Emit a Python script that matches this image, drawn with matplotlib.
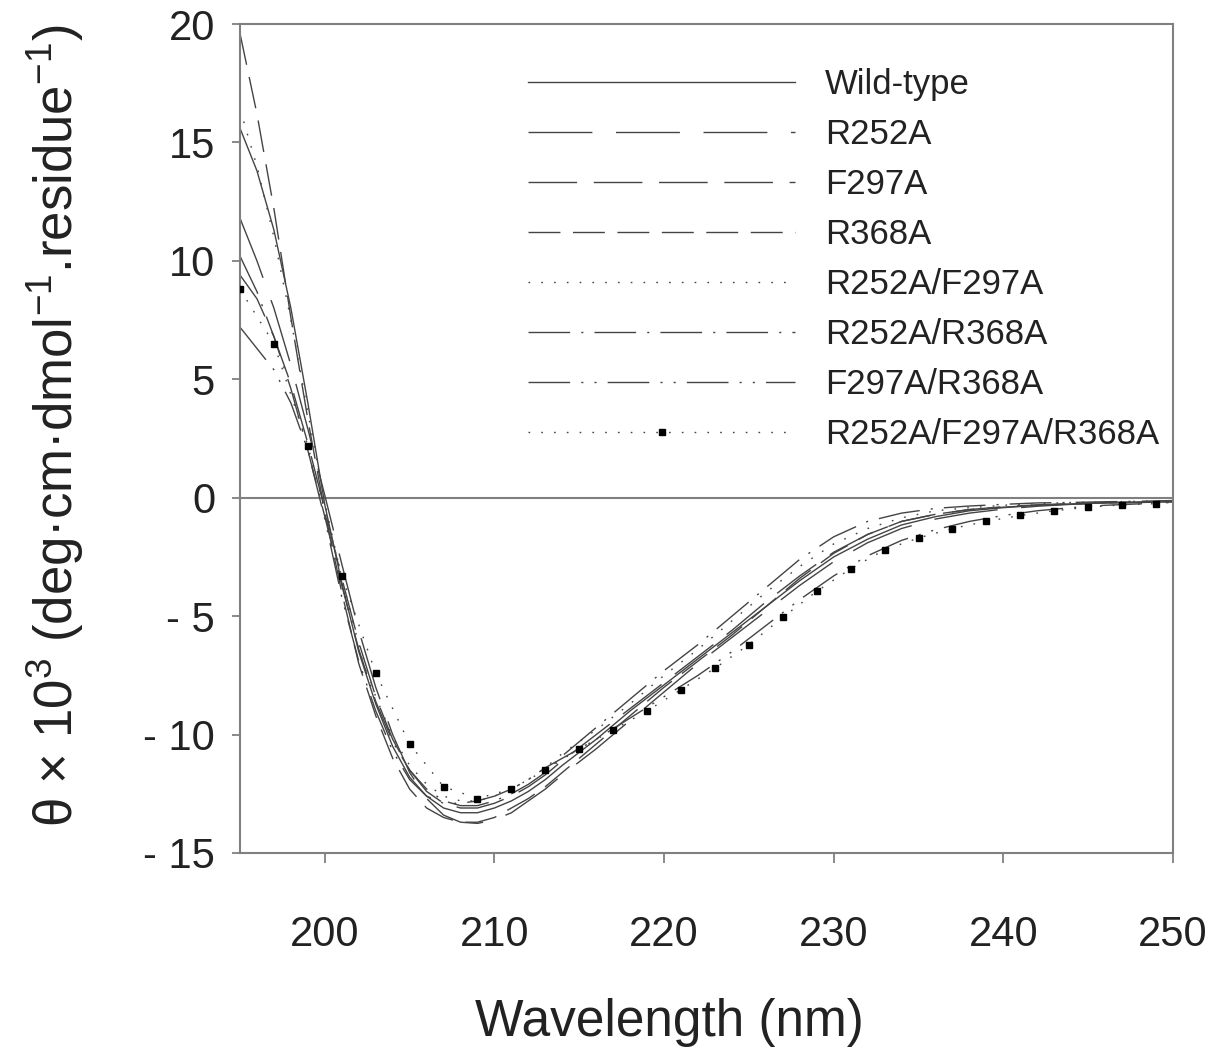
# CD spectra of wild-type and mutants

import matplotlib
matplotlib.use("Agg")
import matplotlib.pyplot as plt

plt.rcParams["font.family"] = ["Liberation Sans", "DejaVu Sans"]
plt.rcParams["mathtext.fontset"] = "custom"
plt.rcParams["mathtext.rm"] = "Liberation Sans"
plt.rcParams["mathtext.it"] = "Liberation Sans:italic"


# DATA

WL = [195, 196, 197, 198, 199, 200, 201, 202, 203, 204, 205, 206, 207, 208,
      209, 210, 211, 212, 213, 214, 216, 218, 220, 222, 224, 226, 228, 230,
      232, 234, 236, 238, 240, 242, 244, 246, 248, 250]

WILD_TYPE = [15.6, 13.8, 11.3, 8.0, 4.0, -0.3, -3.6, -6.5, -8.7, -10.5, -11.8,
             -12.6, -13.1, -13.3, -13.3, -13.1, -12.8, -12.4, -11.9, -11.3,
             -10.2, -9.0, -7.9, -6.8, -5.7, -4.6, -3.5, -2.5, -1.75, -1.15,
             -0.8, -0.55, -0.42, -0.32, -0.26, -0.22, -0.18, -0.15]

R252A = [11.8, 10.0, 8.0, 5.6, 2.9, 0.1, -2.8, -5.6, -8.0, -10.0, -11.6,
         -12.7, -13.4, -13.7, -13.75, -13.6, -13.3, -12.8, -12.3, -11.7,
         -10.6, -9.4, -8.2, -7.0, -5.9, -4.8, -3.7, -2.7, -1.9, -1.3,
         -0.9, -0.65, -0.48, -0.36, -0.28, -0.23, -0.2, -0.17]

F297A = [9.4, 8.4, 6.8, 4.8, 2.3, -0.5, -3.4, -6.1, -8.4, -10.2, -11.5,
         -12.4, -12.9, -13.1, -13.1, -12.9, -12.6, -12.2, -11.7, -11.1,
         -10.0, -8.9, -7.8, -6.7, -5.6, -4.4, -3.3, -2.3, -1.55, -1.0,
         -0.7, -0.5, -0.38, -0.3, -0.25, -0.2, -0.18, -0.15]

R368A = [19.6, 16.2, 12.2, 7.6, 3.3, -0.6, -4.0, -7.0, -9.2, -11.0, -12.3,
         -13.1, -13.5, -13.7, -13.7, -13.5, -13.1, -12.7, -12.2, -11.6,
         -10.4, -9.2, -8.0, -6.9, -5.8, -4.6, -3.4, -2.35, -1.55, -1.0,
         -0.7, -0.5, -0.4, -0.32, -0.27, -0.22, -0.2, -0.18]

R252A_F297A = [16.4, 14.0, 11.0, 7.5, 3.6, -0.2, -3.4, -6.2, -8.4, -10.1,
               -11.3, -12.1, -12.6, -12.8, -12.8, -12.6, -12.3, -11.9, -11.4,
               -10.8, -9.8, -8.7, -7.5, -6.4, -5.2, -4.0, -2.9, -1.95, -1.3,
               -0.85, -0.55, -0.42, -0.32, -0.25, -0.2, -0.18, -0.15, -0.12]

R252A_R368A = [10.2, 8.7, 6.8, 4.6, 2.0, -0.8, -3.7, -6.4, -8.6, -10.3,
               -11.5, -12.3, -12.8, -13.0, -13.0, -12.8, -12.5, -12.1, -11.6,
               -10.9, -9.7, -8.5, -7.3, -6.2, -5.0, -3.8, -2.6, -1.65, -1.0,
               -0.65, -0.45, -0.35, -0.28, -0.22, -0.2, -0.17, -0.15, -0.12]

F297A_R368A = [7.2, 6.3, 5.4, 4.0, 2.0, -0.9, -4.2, -6.9, -9.0, -10.7,
               -11.9, -12.6, -12.9, -12.9, -12.8, -12.6, -12.3, -11.9, -11.4,
               -11.0, -10.2, -9.3, -8.4, -7.5, -6.5, -5.4, -4.3, -3.3, -2.45,
               -1.8, -1.35, -1.0, -0.75, -0.55, -0.42, -0.32, -0.26, -0.2]

# triple mutant, sampled every 2 nm (the square markers)
WL_TRIPLE = [195, 197, 199, 201, 203, 205, 207, 209, 211, 213, 215, 217, 219,
             221, 223, 225, 227, 229, 231, 233, 235, 237, 239, 241, 243, 245,
             247, 249]
TRIPLE = [8.8, 6.5, 2.2, -3.3, -7.4, -10.4, -12.2, -12.7, -12.3, -11.5,
          -10.6, -9.8, -9.0, -8.1, -7.2, -6.2, -5.05, -3.95, -3.0, -2.2,
          -1.7, -1.3, -1.0, -0.75, -0.55, -0.4, -0.3, -0.25]

LABELS = ["Wild-type", "R252A", "F297A", "R368A", "R252A/F297A",
          "R252A/R368A", "F297A/R368A", "R252A/F297A/R368A"]

Y_TICKS = [20, 15, 10, 5, 0, -5, -10, -15]
Y_TICK_LABELS = ["20", "15", "10", "5", "0", "- 5", "- 10", "- 15"]
X_TICKS = [200, 210, 220, 230, 240, 250]


# PLOT

fig = plt.figure(figsize=(12.12, 10.55), dpi=100)
ax = fig.add_axes([240 / 1212, 1 - 853 / 1055, 933 / 1212, 829 / 1055])

GREY = "#808080"
LINE = "#444444"
TEXT = "#222222"

series = [WILD_TYPE, R252A, F297A, R368A, R252A_F297A, R252A_R368A, F297A_R368A]
styles = [
    "-",
    (0, (46, 17)),
    (0, (35, 12)),
    (0, (23, 9)),
    (0, (1.2, 8)),
    (0, (30, 8, 1.5, 8)),
    (0, (30, 8, 1.5, 8, 1.5, 8)),
]

ax.axhline(0, color=GREY, lw=1.5, zorder=1)

handles = []
for ys, ls, lab in zip(series, styles, LABELS):
    h, = ax.plot(WL, ys, color=LINE, lw=1.0, ls=ls, label=lab, zorder=2)
    handles.append(h)

h, = ax.plot(WL_TRIPLE, TRIPLE, color=LINE, lw=1.0, ls=(0, (1.2, 8)),
             marker="s", ms=4.5, mfc="black", mec="black",
             label=LABELS[-1], zorder=3)
handles.append(h)

ax.set_xlim(195, 250)
ax.set_ylim(-15, 20)
ax.set_xticks(X_TICKS)
ax.set_yticks(Y_TICKS)
ax.set_yticklabels(Y_TICK_LABELS)

for s in ax.spines.values():
    s.set_color(GREY)
    s.set_linewidth(1.5)

ax.tick_params(axis="x", direction="out", length=7, width=1.3, color=GREY,
               labelsize=30, pad=38, labelcolor=TEXT)
ax.tick_params(axis="y", direction="out", length=6, width=1.3, color=GREY,
               labelsize=30, pad=12, labelcolor=TEXT)

ax.set_xlabel("Wavelength (nm)", fontsize=37, color=TEXT)
ax.xaxis.set_label_coords(0.46, -0.175)
ax.set_ylabel("θ × 10$^{3}$ (deg·cm·dmol$^{-1}$.residue$^{-1}$)",
              fontsize=38, color=TEXT)
ax.yaxis.set_label_coords(-0.165, 0.515)

leg = ax.legend(handles=handles, loc="upper left",
                bbox_to_anchor=(528 / 1212, 1 - 68 / 1055),
                bbox_transform=fig.transFigure,
                frameon=False, fontsize=25, handlelength=7.7,
                handletextpad=0.85, labelspacing=0.49, borderpad=0,
                borderaxespad=0)
for t in leg.get_texts():
    t.set_color(TEXT)

fig.savefig("out.png", dpi=100)
